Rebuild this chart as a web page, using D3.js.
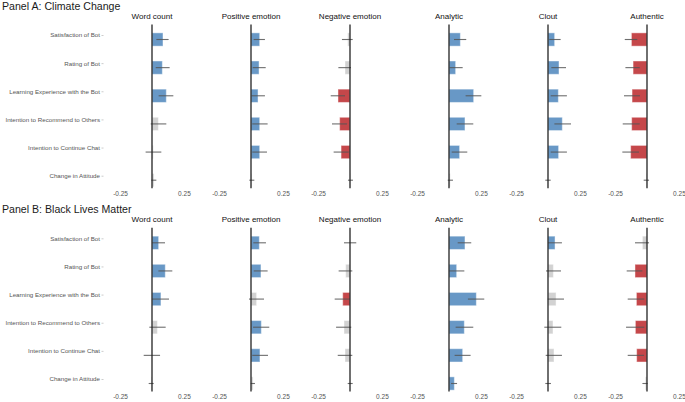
<!DOCTYPE html>
<html><head><meta charset="utf-8">
<script src="https://cdn.jsdelivr.net/npm/d3@7"></script>
<style>
html,body{margin:0;padding:0;background:#fff;}
text{font-family:"Liberation Sans",Arial,sans-serif;}
</style></head>
<body>
<svg id="chart" width="685" height="402"></svg>
<script>
// ---------- DATA ----------
const panelTitles = ["Panel A: Climate Change", "Panel B: Black Lives Matter"];
const categories = ["Satisfaction of Bot", "Rating of Bot", "Learning Experience with the Bot",
  "Intention to Recommend to Others", "Intention to Continue Chat", "Change in Attitude"];
const measures = ["Word count", "Positive emotion", "Negative emotion", "Analytic", "Clout", "Authentic"];
const tickValues = [-0.25, 0.25];
const tickLabels = ["-0.25", "0.25"];

// Panel A (Climate Change): rows = measures, columns = categories
const climateEstimate = [
  [0.086, 0.081, 0.112, 0.050, 0.010, 0.016],
  [0.068, 0.063, 0.055, 0.068, 0.068, 0.005],
  [-0.018, -0.039, -0.094, -0.081, -0.070, 0.003],
  [0.089, 0.052, 0.193, 0.125, 0.083, 0.010],
  [0.052, 0.086, 0.081, 0.112, 0.083, -0.002],
  [-0.122, -0.109, -0.117, -0.120, -0.128, -0.005]
];
const climateLower = [
  [0.034, 0.029, 0.052, -0.010, -0.050, -0.005],
  [0.021, 0.013, 0.005, 0.010, 0.010, -0.013],
  [-0.063, -0.091, -0.151, -0.141, -0.128, -0.016],
  [0.039, 0.005, 0.130, 0.060, 0.021, -0.010],
  [0.010, 0.026, 0.021, 0.050, 0.021, -0.021],
  [-0.174, -0.169, -0.180, -0.190, -0.193, -0.026]
];
const climateUpper = [
  [0.130, 0.138, 0.167, 0.112, 0.073, 0.034],
  [0.109, 0.115, 0.109, 0.130, 0.125, 0.026],
  [0.021, 0.008, -0.039, -0.023, -0.010, 0.023],
  [0.135, 0.107, 0.253, 0.190, 0.143, 0.031],
  [0.099, 0.141, 0.148, 0.180, 0.148, 0.021],
  [-0.076, -0.057, -0.055, -0.057, -0.063, 0.016]
];

// Panel B (Black Lives Matter)
const blmEstimate = [
  [0.052, 0.104, 0.070, 0.042, -0.001, -0.006],
  [0.065, 0.078, 0.044, 0.081, 0.070, 0.016],
  [0.001, -0.034, -0.057, -0.047, -0.039, 0.002],
  [0.125, 0.060, 0.214, 0.120, 0.107, 0.042],
  [0.055, 0.042, 0.063, 0.039, 0.047, 0.001],
  [-0.036, -0.094, -0.083, -0.091, -0.081, -0.013]
];
const blmLower = [
  [0.002, 0.050, 0.002, -0.021, -0.065, -0.026],
  [0.018, 0.021, -0.016, 0.016, 0.010, -0.002],
  [-0.047, -0.089, -0.120, -0.109, -0.096, -0.018],
  [0.068, 0.003, 0.148, 0.052, 0.044, 0.016],
  [0.002, -0.016, -0.002, -0.029, -0.018, -0.021],
  [-0.094, -0.159, -0.151, -0.164, -0.151, -0.036]
];
const blmUpper = [
  [0.102, 0.159, 0.133, 0.107, 0.063, 0.013],
  [0.117, 0.130, 0.102, 0.143, 0.133, 0.031],
  [0.049, 0.018, -0.003, 0.010, 0.018, 0.021],
  [0.174, 0.120, 0.276, 0.190, 0.169, 0.063],
  [0.109, 0.102, 0.125, 0.104, 0.109, 0.023],
  [0.016, -0.036, -0.021, -0.021, -0.023, 0.005]
];

const panelData = [
  {est: climateEstimate, lo: climateLower, hi: climateUpper},
  {est: blmEstimate, lo: blmLower, hi: blmUpper}
];

// ---------- LAYOUT ----------
const svg = d3.select("#chart");
const colBlue = "#6898c6", colRed = "#c5474a", colGray = "#d2d2d2";
const panelTop = [0, 203.3];        // vertical offset of each panel
const rowFirst = 35, rowLast = 175.7;
const barOffset = 4.5, barH = 13.3;
const halfWidth = 46, domainHalf = 0.36;

const facetCenter = d3.scalePoint().domain(measures).range([152, 647]);

panelData.forEach((pd, p) => {
  const off = panelTop[p];
  const g = svg.append("g").attr("transform", `translate(0,${off})`);

  g.append("text").attr("x", 2).attr("y", 9.5)
    .attr("font-size", 10.6).attr("fill", "#1a1a1a").text(panelTitles[p]);

  const y = d3.scalePoint().domain(categories).range([rowFirst, rowLast]);

  // y axis
  const yAxis = g.append("g").attr("transform", "translate(103.5,0)")
    .call(d3.axisLeft(y).tickSize(2).tickPadding(1.5));
  yAxis.select(".domain").remove();
  yAxis.selectAll(".tick line").attr("stroke", "#aaa").attr("stroke-width", 0.6);
  yAxis.selectAll(".tick text").attr("font-size", 6.2).attr("fill", "#555")
    .attr("font-family", "Liberation Sans, Arial, sans-serif");

  measures.forEach((m, mi) => {
    const c = facetCenter(m);
    const x = d3.scaleLinear().domain([-domainHalf, domainHalf]).range([c - halfWidth, c + halfWidth]);
    const fg = g.append("g");

    fg.append("text").attr("x", c).attr("y", 19).attr("text-anchor", "middle")
      .attr("font-size", 8).attr("fill", "#111").text(m);

    const rows = categories.map((cat, ci) => ({
      cat, est: pd.est[mi][ci], lo: pd.lo[mi][ci], hi: pd.hi[mi][ci]
    }));

    fg.selectAll("rect.bar").data(rows).join("rect").attr("class", "bar")
      .attr("x", d => x(Math.min(0, d.est)))
      .attr("width", d => Math.abs(x(d.est) - x(0)))
      .attr("y", d => y(d.cat) + barOffset - barH / 2)
      .attr("height", barH)
      .attr("fill", d => d.lo > 0 ? colBlue : (d.hi < 0 ? colRed : colGray))
      .attr("stroke", "#fff").attr("stroke-opacity", 0.45).attr("stroke-width", 1);

    fg.selectAll("line.err").data(rows).join("line").attr("class", "err")
      .attr("x1", d => x(d.lo)).attr("x2", d => x(d.hi))
      .attr("y1", d => y(d.cat) + barOffset).attr("y2", d => y(d.cat) + barOffset)
      .attr("stroke", "#555").attr("stroke-width", 1.1).attr("stroke-opacity", 0.85);

    fg.append("line")
      .attr("x1", x(0)).attr("x2", x(0))
      .attr("y1", rowFirst - 10.5).attr("y2", rowLast + 12.5)
      .attr("stroke", "#222").attr("stroke-width", 1.3);

    const xAxis = fg.append("g").attr("transform", `translate(0,${rowLast + 13})`)
      .call(d3.axisBottom(x).tickValues(tickValues).tickSize(0).tickPadding(2.5)
        .tickFormat((d, i) => tickLabels[i]));
    xAxis.select(".domain").remove();
    xAxis.selectAll(".tick text").attr("font-size", 6.5).attr("fill", "#555")
      .attr("font-family", "Liberation Sans, Arial, sans-serif");
  });
});
</script>
</body></html>
